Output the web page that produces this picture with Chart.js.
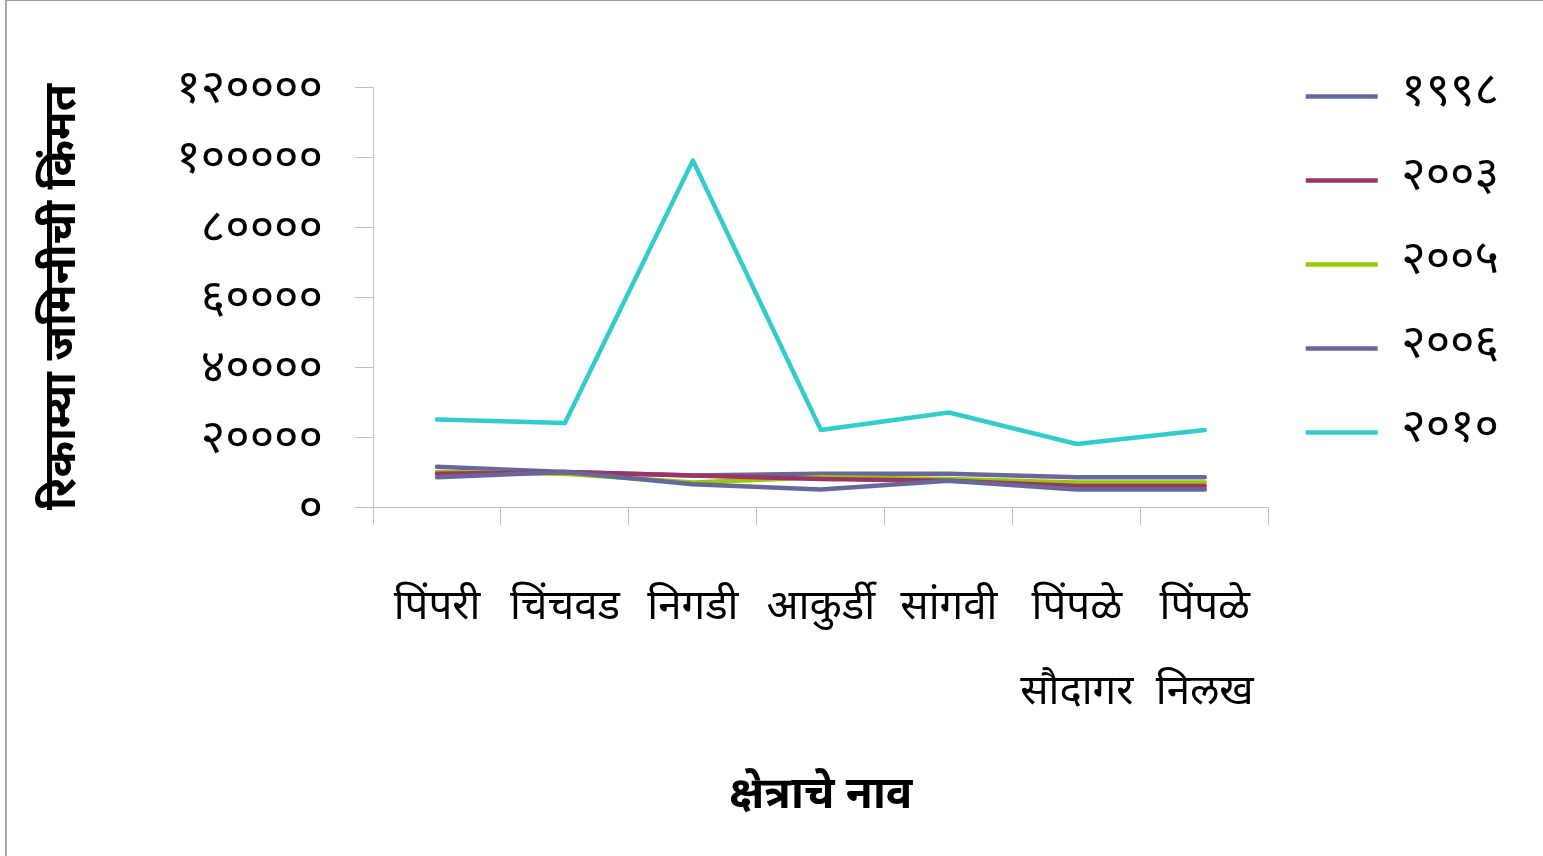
<!DOCTYPE html>
<html lang="mr">
<head>
<meta charset="utf-8">
<title>रिकाम्या जमिनीची किंमत</title>
<script src="https://cdn.jsdelivr.net/npm/chart.js@4.4.1/dist/chart.umd.min.js"></script>
<style>
  html, body { margin: 0; padding: 0; background: #ffffff; }
  #frame {
    position: absolute; left: 5px; top: 0; width: 1538px; height: 856px;
    border-left: 2px solid #a6a6a6; border-top: 1px solid #9a9a9a;
    box-sizing: border-box;
  }
  #wrap { position: absolute; left: 0; top: 0; width: 1543px; height: 856px; }
</style>
</head>
<body>
<div id="frame"></div>
<div id="wrap"><canvas id="chart" width="1543" height="856"></canvas></div>
<script>
// क्षेत्र (x-axis categories)
const areas = ['पिंपरी', 'चिंचवड', 'निगडी', 'आकुर्डी', 'सांगवी', 'पिंपळे सौदागर', 'पिंपळे निलख'];

// series names (years, Devanagari numerals)
const years = ['१९९८', '२००३', '२००५', '२००६', '२०१०'];

// vacant land price per area and year
const price1998 = [8500, 10000, 6500, 5000, 7500, 5000, 5000];
const price2003 = [9500, 10000, 9000, 8000, 7500, 6000, 6000];
const price2005 = [10000, 9500, 7000, 8500, 8000, 7000, 7000];
const price2006 = [11500, 10000, 9000, 9500, 9500, 8500, 8500];
const price2010 = [25000, 24000, 99000, 22000, 27000, 18000, 22000];

const seriesColors = ['#67679c', '#9c3566', '#99c800', '#67679c', '#32cccc'];

// y-axis tick range
const yMin = 0, yMax = 120000, yStep = 20000;

// Devanagari digits for tick labels
const devDigits = ['०', '१', '२', '३', '४', '५', '६', '७', '८', '९'];
const toDev = n => String(n).replace(/[0-9]/g, d => devDigits[+d]);

const FONT = "'Noto Sans Devanagari', 'Lohit Devanagari', 'Mangal', 'Noto Sans', 'DejaVu Sans', sans-serif";

const allSeries = [price1998, price2003, price2005, price2006, price2010];

const datasets = allSeries.map((vals, i) => ({
  label: years[i],
  data: vals,
  borderColor: seriesColors[i],
  backgroundColor: seriesColors[i],
  borderWidth: 4.5,
  borderCapStyle: 'round',
  borderJoinStyle: 'round',
  pointRadius: 0,
  pointHoverRadius: 0,
  tension: 0,
  fill: false
}));

new Chart(document.getElementById('chart'), {
  type: 'line',
  data: { labels: areas, datasets },
  options: {
    responsive: false,
    animation: false,
    events: [],
    layout: { padding: { top: 36, left: 6, right: 34, bottom: 0 } },
    plugins: {
      tooltip: { enabled: false },
      legend: {
        position: 'right',
        align: 'start',
        labels: {
          usePointStyle: true,
          pointStyle: 'line',
          pointStyleWidth: 72,
          boxHeight: 47,
          padding: 37,
          color: '#000000',
          font: { family: FONT, size: 47 }
        }
      }
    },
    scales: {
      x: {
        type: 'category',
        offset: true,
        border: { display: true, color: '#bfbfbf', width: 1 },
        grid: {
          offset: true,
          drawOnChartArea: false,
          drawTicks: true,
          tickLength: 18,
          color: '#bfbfbf'
        },
        ticks: {
          autoSkip: false,
          maxRotation: 0,
          minRotation: 0,
          padding: 44,
          color: '#000000',
          font: { family: FONT, size: 42, lineHeight: '85px' },
          callback: function (value) {
            const name = this.getLabelForValue(value);
            return name.includes(' ') ? name.split(' ') : name;
          }
        },
        title: {
          display: true,
          text: 'क्षेत्राचे नाव',
          color: '#000000',
          font: { family: FONT, size: 44, weight: 'bold' },
          padding: { top: 0, bottom: 30 }
        },
        afterFit: scale => { scale.height = 349; }
      },
      y: {
        min: yMin,
        max: yMax,
        border: { display: true, color: '#bfbfbf', width: 1 },
        grid: {
          drawOnChartArea: false,
          drawTicks: true,
          tickLength: 18,
          color: '#bfbfbf'
        },
        ticks: {
          stepSize: yStep,
          autoSkip: false,
          padding: 32,
          color: '#000000',
          font: { family: FONT, size: 47, lineHeight: '13px' },
          // leading blank line nudges the digits down onto the tick
          callback: v => ['', toDev(v)]
        },
        title: {
          display: true,
          text: 'रिकाम्या जमिनीची किंमत',
          color: '#000000',
          font: { family: FONT, size: 44, weight: 'bold' },
          padding: { top: 34, bottom: 0 }
        },
        afterFit: scale => {
          scale.width = 367;
          scale.paddingTop = 87;
        }
      }
    }
  }
});
</script>
</body>
</html>
